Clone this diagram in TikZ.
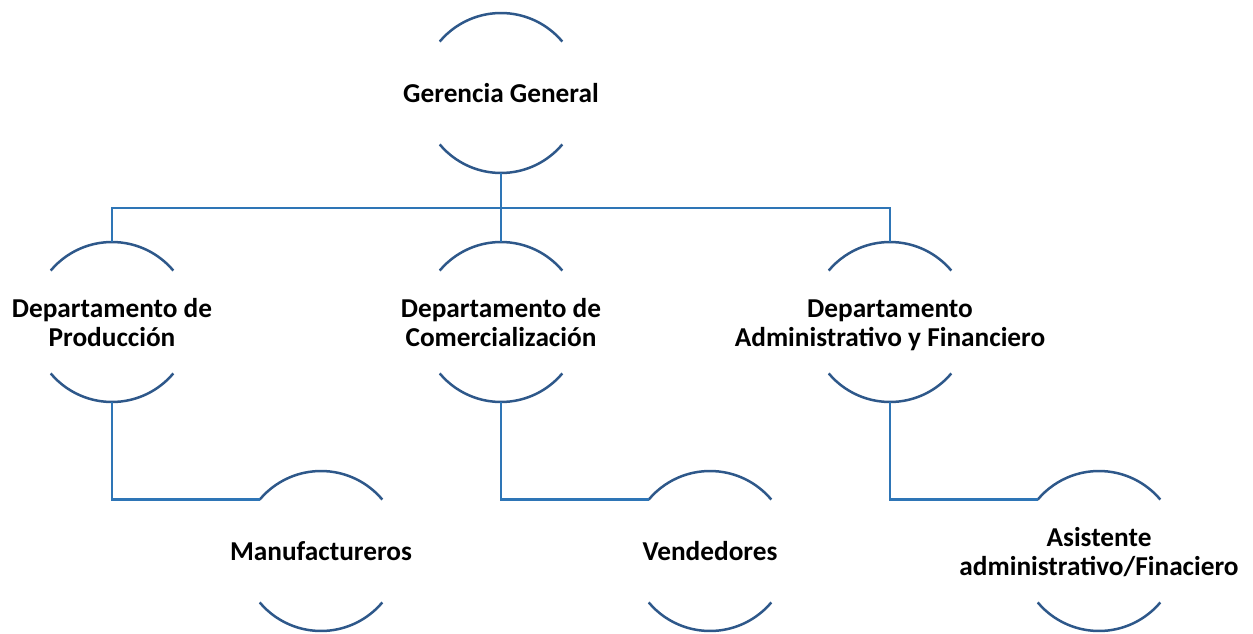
\documentclass[tikz,border=0pt]{standalone}
\usepackage{fontspec}
\setmainfont{Carlito}
\definecolor{arcblue}{RGB}{46,88,138}
\definecolor{lineblue}{RGB}{46,117,182}
\newcommand\orgtext[1]{\raisebox{-4pt}[\height][\depth]{\makebox[0pt]{\begin{tabular}{@{}c@{}}#1\end{tabular}}}}
\begin{document}
\begin{tikzpicture}[x=1pt,y=1pt,
  orgnode/.style={circle,minimum size=160pt,inner sep=0pt,outer sep=0pt,draw=none,
    font=\bfseries\fontsize{27.3}{29}\selectfont},
  arcline/.style={draw=arcblue,line width=2.5pt},
  link/.style={draw=lineblue,line width=2.5pt}]
\useasboundingbox (0,0) rectangle (1253,633);
\node[orgnode] (g) at (501,540) {\orgtext{Gerencia General}};
\node[orgnode] (p) at (112,311) {\orgtext{Departamento de\\Producción}};
\node[orgnode] (c) at (501,311) {\orgtext{Departamento de\\Comercialización}};
\node[orgnode] (a) at (890,311) {\orgtext{Departamento\\Administrativo y Financiero}};
\node[orgnode] (m) at (321,82) {\orgtext{Manufactureros}};
\node[orgnode] (v) at (710,82) {\orgtext{Vendedores}};
\node[orgnode] (s) at (1099,82) {\orgtext{Asistente\\administrativo/Finaciero}};
\foreach \n in {g,p,c,a,m,v,s}{
  \draw[arcline] (\n.140) arc[start angle=140,end angle=40,radius=80pt];
  \draw[arcline] (\n.220) arc[start angle=220,end angle=320,radius=80pt];
}
\coordinate (busL) at (112,425);
\draw[link] (g.south) -- (c.north);
\draw[link] (p.north) -- (busL) -| (a.north);
\draw[link] (p.south) |- (m.140);
\draw[link] (c.south) |- (v.140);
\draw[link] (a.south) |- (s.140);
\end{tikzpicture}
\end{document}
